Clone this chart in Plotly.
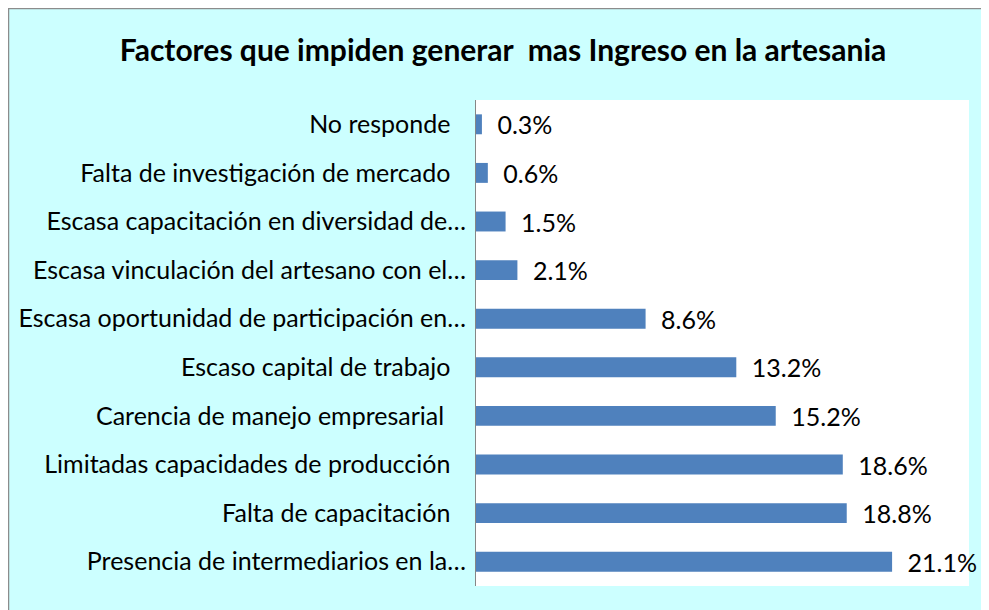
import plotly.graph_objects as go

PAD = "\u2002\u2009"  # trailing padding on labels that are not truncated
categories = [
    "Presencia de intermediarios en la…",
    "Falta de capacitación" + PAD,
    "Limitadas capacidades de producción" + PAD,
    "Carencia de manejo empresarial" + PAD + "\u2009\u2009",
    "Escaso capital de trabajo" + PAD,
    "Escasa oportunidad de participación en…",
    "Escasa vinculación del artesano con el…",
    "Escasa capacitación en diversidad de…",
    "Falta de investigación de mercado" + PAD,
    "No responde" + PAD,
]
values = [0.211, 0.188, 0.186, 0.152, 0.132, 0.086, 0.021, 0.015, 0.006, 0.003]

FONT = "Lato"
# figure is placed at (8, 8) by the page body margin
W, H = 981, 602
L, R, T, B = 468, 961, 92, 578   # plot area in figure pixels

fig = go.Figure(go.Bar(
    x=values, y=categories, orientation="h",
    marker=dict(color="#4F81BD", line=dict(color="#4F81BD", width=0)),
    texttemplate="\u2002%{x:.1%}", textposition="outside",
    textfont=dict(family=FONT, size=25, color="#000000"),
    constraintext="none",
    cliponaxis=False,
))

def px_x(p):
    return (p - L) / (R - L)

def px_y(p):
    return (B - p) / (B - T)

fig.update_layout(
    width=W, height=H,
    margin=dict(l=L, r=W - R, t=T, b=H - B, pad=0, autoexpand=False),
    paper_bgcolor="#CCFFFF",
    plot_bgcolor="#FFFFFF",
    bargap=0.59,
    showlegend=False,
    title=dict(
        text="<b>Factores que impiden generar\u00a0 mas Ingreso en la artesania</b>",
        x=px_x(495), xref="paper", xanchor="center",
        y=1 - 42 / H, yref="container", yanchor="middle",
        font=dict(family=FONT, size=30, color="#000000"),
        automargin=False,
    ),
    xaxis=dict(range=[0, 0.25], visible=False, fixedrange=True, automargin=False),
    yaxis=dict(
        showline=True, linecolor="#868686", linewidth=1,
        ticks="", ticklabelstandoff=4, automargin=False,
        tickfont=dict(family=FONT, size=25, color="#000000"),
        showgrid=False,
    ),
    shapes=[
        dict(type="rect", xref="paper", yref="paper", layer="above",
             x0=px_x(0.5), x1=px_x(W + 20), y0=px_y(0.5), y1=px_y(H + 20),
             fillcolor="rgba(0,0,0,0)", line=dict(color="#8C8C8C", width=1.5)),
    ],
)

fig.write_html("out.html")
